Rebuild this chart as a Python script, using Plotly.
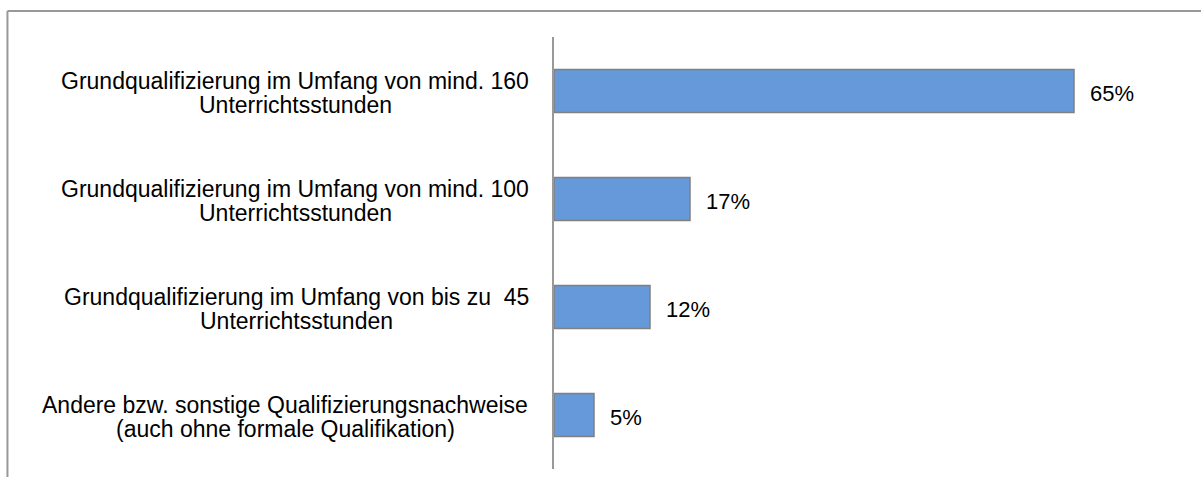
import plotly.graph_objects as go

# Survey categories (top to bottom), each as two text lines, and shares in percent
label_lines = [
    ["Grundqualifizierung im Umfang von mind. 160", "Unterrichtsstunden"],
    ["Grundqualifizierung im Umfang von mind. 100", "Unterrichtsstunden"],
    ["Grundqualifizierung im Umfang von bis zu  45", "Unterrichtsstunden"],
    ["Andere bzw. sonstige Qualifizierungsnachweise", "(auch ohne formale Qualifikation)"],
]
categories = [" ".join(lines) for lines in label_lines]
shares = [65, 17, 12, 5]
value_labels = [f"{v}%" for v in shares]

FONT = "Liberation Sans, Arial, sans-serif"
LABEL_SIZE = 23
VALUE_SIZE = 22
TEXT_COLOR = "#000000"
BAR_COLOR = "#6699D9"
BAR_EDGE = "#808080"
FRAME_COLOR = "#999999"

# Advance widths of Liberation Sans / Arial glyphs (per 1000 em units),
# used to centre the second label line under the first one.
_ADV = {
    " ": 278, ".": 278, "(": 333, ")": 333, "%": 889,
    "A": 667, "G": 778, "Q": 778, "U": 722,
    "a": 556, "b": 556, "c": 500, "d": 556, "e": 556, "f": 278, "g": 556,
    "h": 556, "i": 222, "k": 500, "l": 222, "m": 833, "n": 556, "o": 556,
    "r": 333, "s": 500, "t": 278, "u": 556, "v": 500, "w": 722, "z": 500,
}


def text_width(s, size):
    return sum(_ADV.get(ch, 556) for ch in s) * size / 1000.0


LABEL_RIGHT_GAP = 25        # px between label block and the axis
LINE_OFFSETS = (10, -13.5)  # px shift of first/second label line vs. bar centre

fig = go.Figure(
    go.Bar(
        x=shares,
        y=categories,
        orientation="h",
        width=0.4,
        marker=dict(color=BAR_COLOR, line=dict(color=BAR_EDGE, width=1.5)),
        hoverinfo="skip",
    )
)

annotations = []
for cat, lines, val, lab in zip(categories, label_lines, shares, value_labels):
    block_w = max(text_width(s, LABEL_SIZE) for s in lines)
    centre_shift = -LABEL_RIGHT_GAP - block_w / 2.0
    for line, dy in zip(lines, LINE_OFFSETS):
        annotations.append(dict(
            x=0, y=cat, xref="x", yref="y",
            text=line, showarrow=False,
            xanchor="center", yanchor="middle",
            xshift=centre_shift, yshift=dy,
            font=dict(family=FONT, size=LABEL_SIZE, color=TEXT_COLOR),
        ))
    # value label to the right of each bar
    annotations.append(dict(
        x=val, y=cat, xref="x", yref="y",
        text=lab, showarrow=False,
        xanchor="left", yanchor="middle",
        xshift=14, yshift=-2,
        font=dict(family=FONT, size=VALUE_SIZE, color=TEXT_COLOR),
    ))

# outer chart frame (top and left edges)
shapes = [
    dict(type="line", xref="paper", yref="paper",
         x0=-0.854, x1=1.02, y0=1.0602, y1=1.0602,
         line=dict(color=FRAME_COLOR, width=2)),
    dict(type="line", xref="paper", yref="paper",
         x0=-0.854, x1=-0.854, y0=1.0602, y1=-0.03,
         line=dict(color=FRAME_COLOR, width=2)),
]

fig.update_layout(
    width=1201,
    height=477,
    margin=dict(l=554, r=7, t=37, b=8),
    paper_bgcolor="white",
    plot_bgcolor="white",
    showlegend=False,
    annotations=annotations,
    shapes=shapes,
    font=dict(family=FONT, size=VALUE_SIZE, color=TEXT_COLOR),
    xaxis=dict(range=[0, 80], visible=False, fixedrange=True),
    yaxis=dict(
        categoryorder="array",
        categoryarray=categories,
        range=[3.5, -0.5],
        showticklabels=False,
        ticks="",
        showgrid=False,
        zeroline=False,
        showline=True,
        linecolor=FRAME_COLOR,
        linewidth=2,
        fixedrange=True,
    ),
)

fig.write_html("out.html", config={"displayModeBar": False})
